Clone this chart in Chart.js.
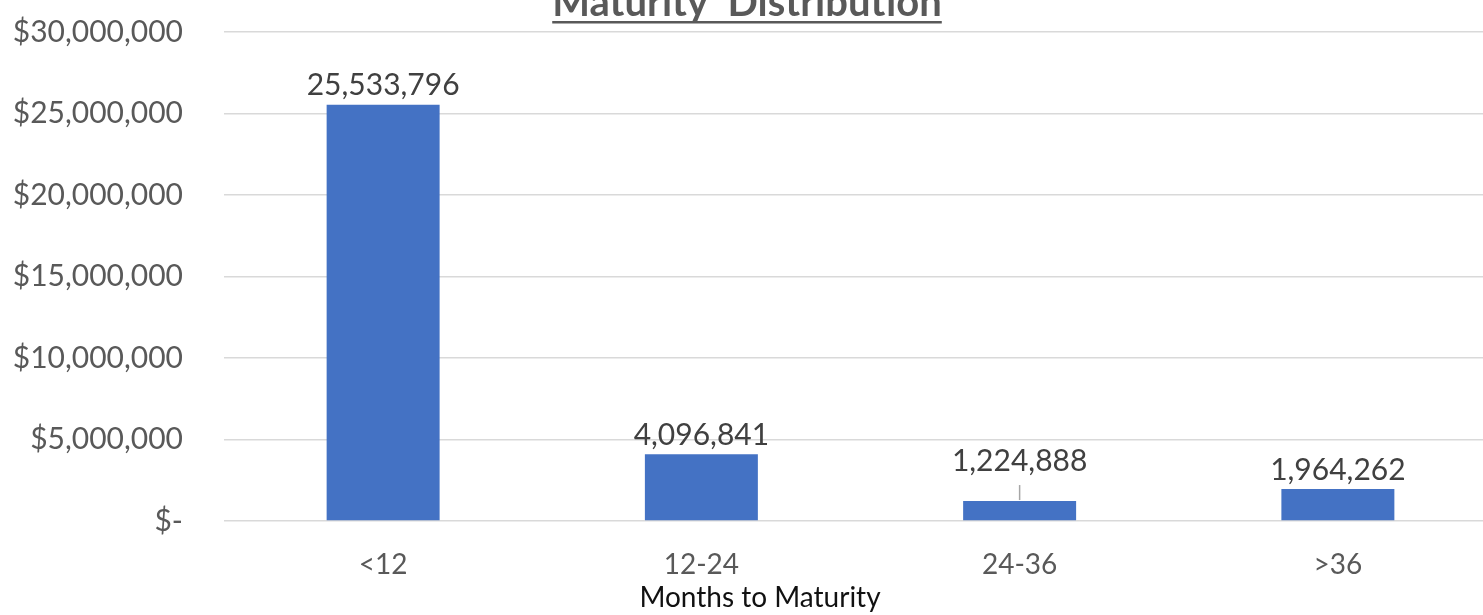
<!DOCTYPE html>
<html>
<head>
<meta charset="utf-8">
<script src="https://cdn.jsdelivr.net/npm/chart.js@4"></script>
<style>
html,body{margin:0;padding:0;background:#fff;overflow:hidden;width:1483px;height:615px;}
#wrap{width:1510px;height:615px;}
</style>
</head>
<body>
<div id="wrap"><canvas id="c" width="1510" height="615"></canvas></div>
<script>
const categories = ['<12', '12-24', '24-36', '>36'];
const values = [25533796, 4096841, 1224888, 1964262];
const yTicks = [0, 5000000, 10000000, 15000000, 20000000, 25000000, 30000000];
const chartTitle = 'Maturity  Distribution';
const xTitle = 'Months to Maturity';

const FONT = 'Lato, "Open Sans", sans-serif';

const textPlugin = {
  id: 'textPlugin',
  afterDatasetsDraw(chart) {
    const ctx = chart.ctx;
    const meta = chart.getDatasetMeta(0);
    const extra = chart.options.plugins.textPlugin.labelLift;
    ctx.save();
    ctx.font = '30px ' + FONT;
    ctx.fillStyle = '#404040';
    ctx.textAlign = 'center';
    ctx.textBaseline = 'middle';
    meta.data.forEach((bar, i) => {
      const lift = extra[i] || 0;
      const y = bar.y - 19 - lift;
      ctx.fillText(values[i].toLocaleString('en-US'), bar.x, y);
      if (lift) {
        ctx.strokeStyle = '#a6a6a6';
        ctx.lineWidth = 1.5;
        ctx.beginPath();
        ctx.moveTo(bar.x, y + 24);
        ctx.lineTo(bar.x, bar.y - 1);
        ctx.stroke();
      }
    });
    // title
    ctx.font = 'bold 40px ' + FONT;
    ctx.fillStyle = '#595959';
    ctx.textBaseline = 'alphabetic';
    const tx = 747;
    ctx.fillText(chartTitle, tx, 16);
    const w = ctx.measureText(chartTitle).width;
    ctx.fillRect(tx - w / 2, 21, w, 2.5);
    // x title
    ctx.font = '28px ' + FONT;
    ctx.fillStyle = '#111111';
    ctx.textBaseline = 'middle';
    ctx.fillText(xTitle, 760, 598);
    ctx.restore();
  }
};

new Chart(document.getElementById('c'), {
  type: 'bar',
  data: {
    labels: categories,
    datasets: [{
      data: values,
      backgroundColor: '#4472C4',
      borderWidth: 0,
      barPercentage: 0.355,
      categoryPercentage: 1
    }]
  },
  options: {
    responsive: false,
    animation: false,
    layout: { padding: { top: 32, right: 13, left: 0, bottom: 0 } },
    plugins: {
      legend: { display: false },
      tooltip: { enabled: false },
      title: { display: false },
      textPlugin: { labelLift: [0, 0, 21, 0] }
    },
    scales: {
      x: {
        grid: { display: false, drawTicks: false },
        border: { display: false },
        ticks: { color: '#595959', font: { family: FONT, size: 28 }, padding: 27, maxRotation: 0 },
        afterFit(s) { s.height = 94; s.paddingLeft = 0; s.paddingRight = 0; }
      },
      y: {
        min: 0, max: 30000000,
        afterBuildTicks(s) { s.ticks = yTicks.map(v => ({ value: v })); },
        grid: { color: '#d9d9d9', lineWidth: 1.5, drawTicks: false },
        border: { display: false },
        ticks: {
          color: '#595959', font: { family: FONT, size: 30 }, padding: 41,
          callback: v => v === 0 ? '$-' : '$' + Number(v).toLocaleString('en-US')
        },
        afterFit(s) { s.width = 224; s.paddingTop = 0; s.paddingBottom = 0; }
      }
    }
  },
  plugins: [textPlugin]
});
</script>
</body>
</html>
